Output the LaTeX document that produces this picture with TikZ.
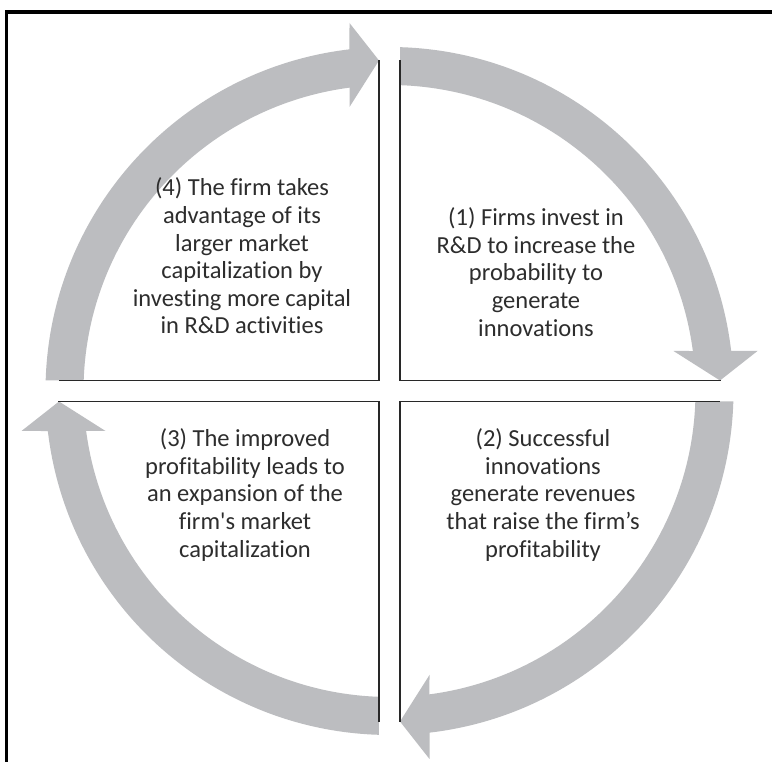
\documentclass[tikz,border=0pt]{standalone}
\usepackage{fontspec}
\setmainfont{Carlito}[Ligatures={TeXOff,NoCommon}]
\usetikzlibrary{calc}
\definecolor{ringgray}{RGB}{188,189,192}
\definecolor{txtgray}{RGB}{45,45,45}
\definecolor{linegray}{RGB}{40,40,40}
\tikzset{
  ringarrow/.style={fill=ringgray, draw=none},
  quadline/.style={draw=linegray, line width=1.7pt, line cap=rect},
  framestyle/.style={draw=black, line width=3.5pt},
  txt/.style={align=center, text=txtgray, inner sep=0pt,
    font=\fontsize{24.5}{27.6}\selectfont}
}
\begin{document}
\begin{tikzpicture}[x=1pt,y=1pt]
\useasboundingbox (0,0) rectangle (772,762);
\fill[white] (0,0) rectangle (772,762);
% outer frame (top and left edges visible)
\coordinate (ftl) at (6.5,750);
\coordinate (ftr) at (772,750);
\coordinate (fbl) at (6.5,0);
\draw[framestyle] (ftr) -- (ftl) -- (fbl);
\coordinate (C) at (389.5,371);
% four arrows and quadrant edges
\foreach \k in {0,1,2,3}{
  \begin{scope}[shift={(C)}, rotate=-90*\k]
    \fill[ringarrow] (88.25:344) arc[start angle=88.25, end angle=6.68, radius=344]
      -- (368,40) -- (330.5,10.5) -- (284,40) -- (7.51:306)
      arc[start angle=7.51, end angle=88.03, radius=306] -- cycle;
    \draw[quadline] (10.5,330) -- (10.5,10.5) -- (330.5,10.5);
  \end{scope}
}
% texts
\node[txt] (t1) at (536,490) {(1) Firms invest in\\R\&D to increase the\\probability to\\generate\\innovations};
\node[txt] (t2) at (543,267) {(2) Successful\\innovations\\generate revenues\\that raise the firm’s\\profitability};
\node[txt] (t3) at (245,267) {(3) The improved\\profitability leads to\\an expansion of the\\firm's market\\capitalization};
\node[txt] (t4) at (242,506) {(4) The firm takes\\advantage of its\\larger market\\capitalization by\\investing more capital\\in R\&D activities};
\end{tikzpicture}
\end{document}
